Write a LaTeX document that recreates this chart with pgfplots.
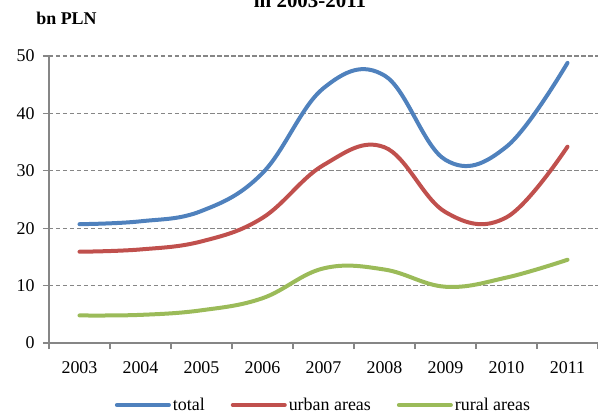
\documentclass[border=0pt]{standalone}
\usepackage{fontspec}
\setmainfont{Liberation Serif}
\usepackage{pgfplots}
\pgfplotsset{compat=1.18}
\definecolor{xlblue}{HTML}{4F81BD}
\definecolor{xlred}{HTML}{C0504D}
\definecolor{xlgreen}{HTML}{9BBB59}
\definecolor{xlgray}{HTML}{868686}
\begin{document}
\begin{tikzpicture}
\useasboundingbox (-49bp,-73bp) rectangle (549bp,343bp);
\begin{axis}[
    at={(0,0)}, anchor=south west,
    scale only axis, width=549bp, height=287bp,
    xmin=-0.5, xmax=8.5, ymin=0, ymax=50,
    axis x line*=bottom, axis y line*=left,
    axis line style={xlgray, line width=1.3bp},
    xtick={0,...,8},
    xticklabels={2003,2004,2005,2006,2007,2008,2009,2010,2011},
    major x tick style={draw=none},
    minor xtick={-0.5,0.5,...,8.5},
    minor x tick style={xlgray, line width=1.3bp},
    ytick={0,10,...,50},
    y tick style={xlgray, line width=1.3bp},
    tick align=outside,
    major tick length=6bp, minor tick length=6bp,
    ymajorgrids, grid style={xlgray, dash pattern=on 4.5bp off 2.5bp, line width=1.3bp},
    ticklabel style={font=\fontsize{18}{21}\selectfont},
    xticklabel style={yshift=-9bp},
    yticklabel style={xshift=-5bp},
    /pgf/number format/assume math mode=true,
    legend columns=3,
    legend style={draw=none, fill=none, at={(0.5,-0.216)}, anchor=center,
        font=\fontsize{18}{21}\selectfont,
        /tikz/every even column/.append style={column sep=24bp}},
    legend image code/.code={\draw[#1] (0bp,0bp) -- (52bp,0bp);},
    every axis plot/.append style={line width=4bp, line cap=round, smooth, tension=0.65},
]
\addplot[xlblue] coordinates {
    (0,20.7)(1,21.2)(2,23.0)(3,29.6)(4,44.4)(5,46.6)(6,31.9)(7,34.2)(8,48.8)};
\addlegendentry{total}
\addplot[xlred] coordinates {
    (0,15.9)(1,16.3)(2,17.7)(3,21.8)(4,31.0)(5,34.1)(6,22.8)(7,21.9)(8,34.2)};
\addlegendentry{urban areas}
\addplot[xlgreen] coordinates {
    (0,4.8)(1,4.9)(2,5.7)(3,7.8)(4,13.0)(5,12.8)(6,9.8)(7,11.4)(8,14.5)};
\addlegendentry{rural areas}
\end{axis}
\node[font=\bfseries\fontsize{21}{25}\selectfont, anchor=base] at (261bp,335bp) {in 2003-2011};
\node[font=\bfseries\fontsize{18}{21}\selectfont, anchor=base] at (17.5bp,318bp) {bn PLN};
\end{tikzpicture}
\end{document}
